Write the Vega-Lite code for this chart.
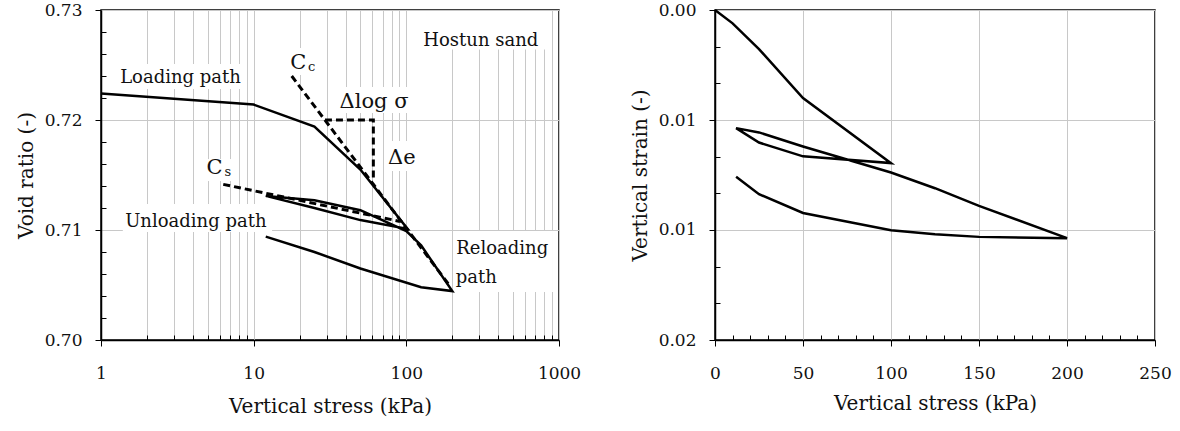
{
  "$schema": "https://vega.github.io/schema/vega-lite/v6.json",
  "padding": {"left": 15, "top": 0, "right": 5, "bottom": 5},
  "background": "white",
  "config": {
    "view": {"stroke": "#000", "strokeWidth": 1.5},
    "font": "DejaVu Serif",
    "axis": {
      "labelFont": "DejaVu Serif", "labelFontSize": 17, "labelColor": "#111",
      "titleFont": "DejaVu Serif", "titleFontSize": 20, "titleFontWeight": "normal", "titleColor": "#111",
      "domainColor": "#000", "domainWidth": 1.5, "tickColor": "#000", "tickWidth": 1,
      "gridColor": "#c8c8c8", "gridWidth": 1,
      "labelFlush": false, "labelOverlap": false, "labelBound": false
    },
    "text": {"font": "DejaVu Serif", "color": "#111"}
  },
  "datasets": {
    "leftPath": [
      {"o": 1, "s": 1, "e": 0.7224},
      {"o": 2, "s": 10, "e": 0.7214},
      {"o": 3, "s": 25, "e": 0.7194},
      {"o": 4, "s": 50, "e": 0.7155},
      {"o": 5, "s": 102, "e": 0.7101},
      {"o": 6, "s": 50, "e": 0.7109},
      {"o": 7, "s": 25, "e": 0.7120},
      {"o": 8, "s": 12, "e": 0.7131},
      {"o": 9, "s": 25, "e": 0.7127},
      {"o": 10, "s": 50, "e": 0.7118},
      {"o": 11, "s": 100, "e": 0.7099},
      {"o": 12, "s": 125, "e": 0.7086},
      {"o": 13, "s": 200, "e": 0.70445},
      {"o": 14, "s": 125, "e": 0.7048},
      {"o": 15, "s": 50, "e": 0.7065},
      {"o": 16, "s": 25, "e": 0.7080},
      {"o": 17, "s": 12, "e": 0.7094}
    ],
    "leftDash": [
      {"g": "Cc", "o": 1, "s": 17.75, "e": 0.7240},
      {"g": "Cc", "o": 2, "s": 193, "e": 0.70491},
      {"g": "tri", "o": 1, "s": 29.3, "e": 0.7200},
      {"g": "tri", "o": 2, "s": 60.8, "e": 0.7200},
      {"g": "tri", "o": 3, "s": 60.8, "e": 0.7145},
      {"g": "Cs", "o": 1, "s": 6.32, "e": 0.71415},
      {"g": "Cs", "o": 2, "s": 90.9, "e": 0.71078}
    ],
    "leftBoxes": [
      {"s": 112, "s2": 847, "e": 0.7264, "e2": 0.7299},
      {"s": 1.235, "s2": 8.64, "e": 0.72282, "e2": 0.72509},
      {"s": 16.5, "s2": 26.4, "e": 0.72409, "e2": 0.72655},
      {"s": 33.1, "s2": 105, "e": 0.72064, "e2": 0.7230},
      {"s": 71.4, "s2": 122.9, "e": 0.71536, "e2": 0.71809},
      {"s": 4.73, "s2": 7.43, "e": 0.71445, "e2": 0.71645},
      {"s": 1.39, "s2": 13.2, "e": 0.70982, "e2": 0.71236},
      {"s": 205, "s2": 913, "e": 0.70436, "e2": 0.70991}
    ],
    "leftText": [
      {"k": "main", "t": "Hostun sand", "s": 307.5, "e": 0.72673},
      {"k": "main", "t": "Loading path", "s": 3.317, "e": 0.72339},
      {"k": "main", "t": "Unloading path", "s": 4.18, "e": 0.71027},
      {"k": "main", "t": "Reloading", "s": 424.6, "e": 0.70779},
      {"k": "main", "t": "path", "s": 287.3, "e": 0.70521},
      {"k": "delta", "t": "Δlog σ", "s": 61.4, "e": 0.72112},
      {"k": "delta", "t": "Δe", "s": 93.5, "e": 0.71597},
      {"k": "C", "t": "C", "s": 19.61, "e": 0.72461},
      {"k": "C", "t": "C", "s": 5.54, "e": 0.71506},
      {"k": "sub", "t": "c", "s": 23.99, "e": 0.72445},
      {"k": "sub", "t": "s", "s": 6.77, "e": 0.71491}
    ],
    "rightPath": [
      {"o": 1, "s": 0, "strain": 0},
      {"o": 2, "s": 10, "strain": 0.00081},
      {"o": 3, "s": 25, "strain": 0.00237},
      {"o": 4, "s": 50, "strain": 0.00534},
      {"o": 5, "s": 100, "strain": 0.00928},
      {"o": 6, "s": 50, "strain": 0.00887},
      {"o": 7, "s": 25, "strain": 0.00803},
      {"o": 8, "s": 12, "strain": 0.00716},
      {"o": 9, "s": 25, "strain": 0.00742},
      {"o": 10, "s": 50, "strain": 0.00827},
      {"o": 11, "s": 100, "strain": 0.00985},
      {"o": 12, "s": 125, "strain": 0.0108},
      {"o": 13, "s": 150, "strain": 0.01187},
      {"o": 14, "s": 200, "strain": 0.01383},
      {"o": 15, "s": 150, "strain": 0.01375},
      {"o": 16, "s": 125, "strain": 0.01359},
      {"o": 17, "s": 100, "strain": 0.01335},
      {"o": 18, "s": 50, "strain": 0.0123},
      {"o": 19, "s": 25, "strain": 0.01116},
      {"o": 20, "s": 12, "strain": 0.01011}
    ]
  },
  "spacing": 156,
  "bounds": "flush",
  "hconcat": [
    {
      "width": 458,
      "height": 330,
      "encoding": {
        "x": {
          "field": "s", "type": "quantitative",
          "scale": {"type": "log", "domain": [1, 1000], "nice": false},
          "axis": {
            "title": "Vertical stress (kPa)",
            "values": [1, 2, 3, 4, 5, 6, 7, 8, 9, 10, 20, 30, 40, 50, 60, 70, 80, 90, 100, 200, 300, 400, 500, 600, 700, 800, 900, 1000],
            "labelExpr": "indexof([1, 10, 100, 1000], datum.value) >= 0 ? format(datum.value, 'd') : ''",
            "tickSize": {"condition": {"test": "indexof([1, 10, 100, 1000], datum.value) >= 0", "value": 6}, "value": -5},
            "labelPadding": 19,
            "titlePadding": 15,
            "grid": true
          }
        },
        "y": {
          "field": "e", "type": "quantitative",
          "scale": {"domain": [0.7, 0.73], "nice": false, "zero": false},
          "axis": {
            "title": "Void ratio (-)",
            "values": [0.7, 0.702, 0.704, 0.706, 0.708, 0.71, 0.712, 0.714, 0.716, 0.718, 0.72, 0.722, 0.724, 0.726, 0.728, 0.73],
            "labelExpr": "abs(datum.value * 100 - round(datum.value * 100)) < 0.001 ? format(datum.value, '.2f') : ''",
            "tickSize": {"condition": {"test": "abs(datum.value * 100 - round(datum.value * 100)) < 0.001", "value": 6}, "value": -5},
            "gridOpacity": {"condition": {"test": "abs(datum.value * 100 - round(datum.value * 100)) < 0.001", "value": 1}, "value": 0},
            "labelPadding": 13,
            "titlePadding": 8,
            "grid": true
          }
        }
      },
      "layer": [
        {
          "data": {"name": "leftBoxes"},
          "mark": {"type": "rect", "fill": "white", "stroke": null},
          "encoding": {"x2": {"field": "s2"}, "y2": {"field": "e2"}}
        },
        {
          "data": {"name": "leftPath"},
          "mark": {"type": "line", "color": "#000", "strokeWidth": 2.5},
          "encoding": {"order": {"field": "o"}}
        },
        {
          "data": {"name": "leftDash"},
          "mark": {"type": "line", "color": "#000", "strokeWidth": 3, "strokeDash": [7, 4]},
          "encoding": {"detail": {"field": "g"}, "order": {"field": "o"}}
        },
        {
          "data": {"name": "leftText"},
          "transform": [{"filter": "datum.k == 'main'"}],
          "mark": {"type": "text", "fontSize": 18, "baseline": "alphabetic", "align": "center"},
          "encoding": {"text": {"field": "t"}}
        },
        {
          "data": {"name": "leftText"},
          "transform": [{"filter": "datum.k == 'delta'"}],
          "mark": {"type": "text", "fontSize": 21, "baseline": "alphabetic", "align": "center"},
          "encoding": {"text": {"field": "t"}}
        },
        {
          "data": {"name": "leftText"},
          "transform": [{"filter": "datum.k == 'C'"}],
          "mark": {"type": "text", "fontSize": 21, "baseline": "alphabetic", "align": "center"},
          "encoding": {"text": {"field": "t"}}
        },
        {
          "data": {"name": "leftText"},
          "transform": [{"filter": "datum.k == 'sub'"}],
          "mark": {"type": "text", "fontSize": 13, "baseline": "alphabetic", "align": "center"},
          "encoding": {"text": {"field": "t"}}
        }
      ]
    },
    {
      "width": 440,
      "height": 330,
      "data": {"name": "rightPath"},
      "mark": {"type": "line", "color": "#000", "strokeWidth": 2.5},
      "encoding": {
        "x": {
          "field": "s", "type": "quantitative",
          "scale": {"domain": [0, 250], "nice": false},
          "axis": {
            "title": "Vertical stress (kPa)",
            "values": [0, 10, 20, 30, 40, 50, 60, 70, 80, 90, 100, 110, 120, 130, 140, 150, 160, 170, 180, 190, 200, 210, 220, 230, 240, 250],
            "labelExpr": "datum.value % 50 == 0 ? format(datum.value, 'd') : ''",
            "tickSize": {"condition": {"test": "datum.value % 50 == 0", "value": 6}, "value": -5},
            "gridOpacity": {"condition": {"test": "datum.value % 50 == 0", "value": 1}, "value": 0},
            "labelPadding": 19,
            "titlePadding": 12,
            "grid": true
          }
        },
        "y": {
          "field": "strain", "type": "quantitative",
          "scale": {"domain": [0, 0.02], "reverse": true, "nice": false, "zero": false},
          "axis": {
            "title": "Vertical strain (-)",
            "values": [0, 0.0022222, 0.0044444, 0.0066667, 0.0088889, 0.0111111, 0.0133333, 0.0155556, 0.0177778, 0.02],
            "labelExpr": "abs(datum.value * 150 - round(datum.value * 150)) < 0.001 ? format(datum.value, '.2f') : ''",
            "tickSize": {"condition": {"test": "abs(datum.value * 150 - round(datum.value * 150)) < 0.001", "value": 6}, "value": -5},
            "gridOpacity": {"condition": {"test": "abs(datum.value * 150 - round(datum.value * 150)) < 0.001", "value": 1}, "value": 0},
            "labelPadding": 13,
            "titlePadding": 8,
            "grid": true
          }
        },
        "order": {"field": "o"}
      }
    }
  ]
}
